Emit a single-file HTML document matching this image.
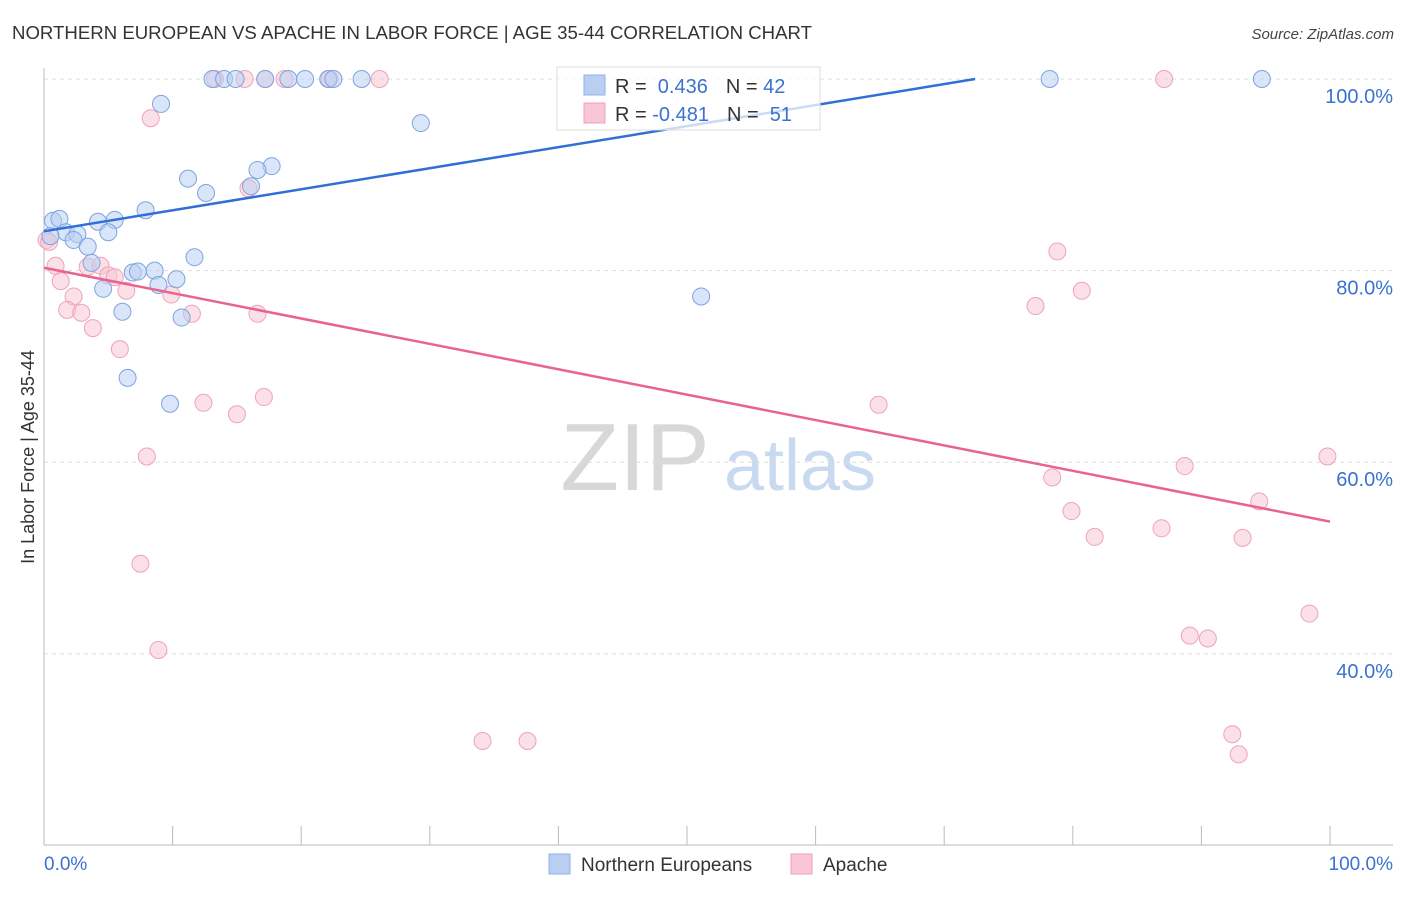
<!DOCTYPE html>
<html><head><meta charset="utf-8"><style>
body{margin:0;background:#fff;font-family:"Liberation Sans",sans-serif}
svg text{font-family:"Liberation Sans",sans-serif}
</style></head><body>
<svg id="chart" width="1406" height="892" viewBox="0 0 1406 892" xmlns="http://www.w3.org/2000/svg">
<text x="12" y="39" font-size="18" fill="#333" textLength="800" lengthAdjust="spacingAndGlyphs">NORTHERN EUROPEAN VS APACHE IN LABOR FORCE | AGE 35-44 CORRELATION CHART</text>
<text x="1394" y="39" font-size="15" fill="#444" font-style="italic" text-anchor="end">Source: ZipAtlas.com</text>
<text x="34" y="457" font-size="18" fill="#333" text-anchor="middle" transform="rotate(-90 34 457)">In Labor Force | Age 35-44</text>
<g><text x="635" y="490" font-size="96" fill="#d8d8d8" font-family="Liberation Serif,serif" text-anchor="middle">ZIP</text><text x="800" y="490" font-size="72" fill="#c9daf0" text-anchor="middle">atlas</text></g>
<g id="grid"></g><g id="axes"></g><g id="marks"></g>
<g>
<rect x="557" y="67" width="263" height="63" fill="#fff" fill-opacity="0.75" stroke="#ddd"/>
<rect x="584" y="75" width="21" height="20" fill="#b9cff2" stroke="#8fb0e6"/>
<rect x="584" y="103" width="21" height="20" fill="#f8c6d4" stroke="#eea3ba"/>
<text x="615" y="93" font-size="20" fill="#333">R = <tspan fill="#3a72d0">&#160;0.436</tspan><tspan dx="18">N = </tspan><tspan fill="#3a72d0">42</tspan></text>
<text x="615" y="121" font-size="20" fill="#333">R = <tspan fill="#3a72d0">-0.481</tspan><tspan dx="18">N = </tspan><tspan fill="#3a72d0">&#160;51</tspan></text>
</g>
<g>
<rect x="549" y="854" width="21" height="20" fill="#b9cff2" stroke="#8fb0e6"/>
<text x="581" y="871" font-size="19" fill="#333">Northern Europeans</text>
<rect x="791" y="854" width="21" height="20" fill="#f8c6d4" stroke="#eea3ba"/>
<text x="823" y="871" font-size="19" fill="#333">Apache</text>
</g>
</svg>
<script>
const yTicks=[100,80,60,40];
const xLabels=["0.0%","100.0%"];
const blueX=[13.1,14.0,14.9,17.2,19.0,20.3,22.1,22.5,24.7,78.2,94.7,9.1,29.3,17.7,16.6,11.2,12.6,16.1,7.9,0.7,1.2,4.2,5.5,1.7,2.6,5.0,2.3,3.4,3.7,11.7,8.6,6.9,7.3,10.3,8.9,4.6,6.1,10.7,51.1,6.5,9.8,0.5];
const blueY=[100,100,100,100,100,100,100,100,100,100,100,97.4,95.4,90.9,90.5,89.6,88.1,88.8,86.3,85.2,85.4,85.1,85.3,84.0,83.8,84.0,83.2,82.5,80.8,81.4,80.0,79.8,79.9,79.1,78.5,78.1,75.7,75.1,77.3,68.8,66.1,83.6];
const pinkX=[13.3,15.6,17.2,18.7,22.2,26.1,87.1,8.3,15.9,0.2,78.8,0.9,3.4,4.4,5.0,5.5,1.3,6.4,80.7,2.3,9.9,1.8,2.9,11.5,16.6,77.1,3.8,5.9,17.1,12.4,15.0,64.9,8.0,99.8,88.7,78.4,94.5,79.9,86.9,81.7,93.2,7.5,98.4,89.1,90.5,8.9,34.1,37.6,92.4,92.9,0.4];
const pinkY=[100,100,100,100,100,100,100,95.9,88.6,83.2,82.0,80.5,80.4,80.5,79.5,79.3,78.9,77.9,77.9,77.3,77.5,75.9,75.6,75.5,75.5,76.3,74.0,71.8,66.8,66.2,65.0,66.0,60.6,60.6,59.6,58.4,55.9,54.9,53.1,52.2,52.1,49.4,44.2,41.9,41.6,40.4,30.9,30.9,31.6,29.5,83.0];
const blueTrend=[0,84.1,72.4,100];
const pinkTrend=[0,80.3,100,53.8];
const NS="http://www.w3.org/2000/svg";
const sx=v=>44+v*12.86, sy=v=>79+(100-v)*9.58;
function mk(t,a,p){const e=document.createElementNS(NS,t);for(const k in a)e.setAttribute(k,a[k]);document.getElementById(p).appendChild(e);return e;}
yTicks.forEach(v=>{
 const l=mk('line',{x1:44,x2:1393,y1:sy(v),y2:sy(v),stroke:'#ddd','stroke-dasharray':'4,4'},'grid');
 
 
 const t=mk('text',{x:1393,y:sy(v)+24,'font-size':20,fill:'#3a72d0','text-anchor':'end'},'axes');t.textContent=v.toFixed(1)+'%';
 
 
});
mk('line',{x1:44,x2:44,y1:68,y2:845,stroke:'#bbb'},'axes');
mk('line',{x1:44,x2:1393,y1:845,y2:845,stroke:'#bbb'},'axes');
for(let i=1;i<=10;i++){const tk=mk('line',{x1:sx(i*10),x2:sx(i*10),y1:826,y2:845,stroke:'#bbb'},'axes');
 
 }
let t0=mk('text',{x:44,y:870,'font-size':19,fill:'#3a72d0'},'axes');t0.textContent=xLabels[0];


let t1=mk('text',{x:1393,y:870,'font-size':19,fill:'#3a72d0','text-anchor':'end'},'axes');t1.textContent=xLabels[1];


pinkX.forEach((x,i)=>{const c=mk('circle',{cx:sx(x),cy:sy(pinkY[i]),r:8.5,fill:'#f8c6d4','fill-opacity':0.55,stroke:'#eea3ba'},'marks');
 
 });
blueX.forEach((x,i)=>{const c=mk('circle',{cx:sx(x),cy:sy(blueY[i]),r:8.5,fill:'#b9cff2','fill-opacity':0.55,stroke:'#7fa3de'},'marks');
 
 });
const bl=mk('line',{x1:sx(blueTrend[0]),y1:sy(blueTrend[1]),x2:sx(blueTrend[2]),y2:sy(blueTrend[3]),stroke:'#2f6fd6','stroke-width':2.5},'marks');


const pl=mk('line',{x1:sx(pinkTrend[0]),y1:sy(pinkTrend[1]),x2:sx(pinkTrend[2]),y2:sy(pinkTrend[3]),stroke:'#e8648f','stroke-width':2.5},'marks');


</script>
</body></html>
